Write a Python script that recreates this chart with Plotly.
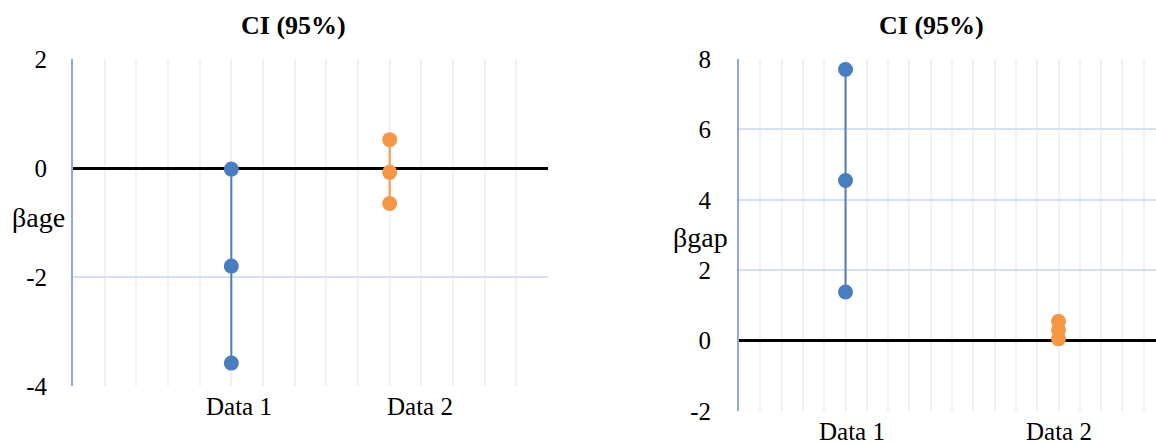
import plotly.graph_objects as go

# ---- data ----
categories = ["Data 1", "Data 2"]
left_x = [1, 2]
left_data1 = [-0.02, -1.8, -3.58]
left_data2 = [0.52, -0.08, -0.65]
right_x = [1, 3]
right_data1 = [7.7, 4.55, 1.38]
right_data2 = [0.55, 0.3, 0.05]
left_yticks = [2, 0, -2, -4]
left_yticklabels = ["2", "0", "-2", "-4"]
right_yticks = [8, 6, 4, 2, 0, -2]
right_yticklabels = ["8", "6", "4", "2", "0", "-2"]
title_text = "CI (95%)"
left_ylabel = "βage"
right_ylabel = "βgap"

BLUE = "#4a7dbf"
ORANGE = "#f79646"
FONT = "Liberation Serif, Times New Roman, serif"

fig = go.Figure()

def add_ci(x, ys, color, xa, ya):
    fig.add_trace(go.Scatter(
        x=[x] * len(ys), y=ys, mode="lines+markers",
        line=dict(color=color, width=2),
        marker=dict(color=color, size=15),
        xaxis=xa, yaxis=ya, showlegend=False, hoverinfo="y"))

add_ci(left_x[0], left_data1, BLUE, "x", "y")
add_ci(left_x[1], left_data2, ORANGE, "x", "y")
add_ci(right_x[0], right_data1, BLUE, "x2", "y2")
add_ci(right_x[1], right_data2, ORANGE, "x2", "y2")

W, H = 1156, 445
L1, R1 = 73, 548
L2 = 739
px_per_unit_r = 106.5
T, B1, B2 = 59, 386, 411

grid_major = "#d5e0f2"
grid_minor = "#edf2fa"
TICKFONT = dict(family=FONT, size=25, color="black")

fig.update_layout(
    template="none",
    width=W, height=H, autosize=False,
    margin=dict(l=0, r=0, t=0, b=0, pad=0, autoexpand=False),
    paper_bgcolor="white", plot_bgcolor="white",
    font=dict(family=FONT, color="black", size=24),
    showlegend=False,
    xaxis=dict(domain=[L1 / W, R1 / W], range=[0, 3], anchor="y",
               automargin=False,
               showgrid=True, gridcolor=grid_minor, gridwidth=1.5,
               dtick=0.2, tick0=0, zeroline=False, showticklabels=False,
               showline=False, ticks=""),
    yaxis=dict(domain=[1 - B1 / H, 1 - T / H], range=[-4, 2], anchor="x",
               automargin=False,
               tickvals=left_yticks, ticktext=left_yticklabels,
               showgrid=True, gridcolor=grid_major,
               gridwidth=2, zeroline=True, zerolinecolor="black",
               zerolinewidth=3, showline=True, linecolor="#8eaadc",
               linewidth=2, ticks="", ticklabelstandoff=19,
               tickfont=TICKFONT),
    xaxis2=dict(domain=[L2 / W, 1.0], range=[0, (W - L2) / px_per_unit_r],
                anchor="y2", automargin=False,
                showgrid=True, gridcolor=grid_minor, gridwidth=1.5,
                dtick=0.2, tick0=0, zeroline=False, showticklabels=False,
                showline=False, ticks=""),
    yaxis2=dict(domain=[1 - B2 / H, 1 - T / H], range=[-2, 8], anchor="x2",
                automargin=False,
                tickvals=right_yticks, ticktext=right_yticklabels,
                showgrid=True, gridcolor=grid_major,
                gridwidth=2, zeroline=True, zerolinecolor="black",
                zerolinewidth=3, showline=True, linecolor="#8eaadc",
                linewidth=2, ticks="", ticklabelstandoff=21,
                tickfont=TICKFONT),
)

ann = []
for tx in [293, 931]:
    ann.append(dict(text="<b>" + title_text + "</b>", xref="paper", yref="paper",
                    x=tx / W, y=1 - 25 / H, showarrow=False,
                    font=dict(family=FONT, size=26, color="black"),
                    xanchor="center", yanchor="middle"))
ann.append(dict(text=left_ylabel, xref="paper", yref="paper",
                x=38 / W, y=1 - 217 / H, showarrow=False,
                font=dict(family=FONT, size=28, color="black"),
                xanchor="center", yanchor="middle"))
ann.append(dict(text=right_ylabel, xref="paper", yref="paper",
                x=700 / W, y=1 - 237 / H, showarrow=False,
                font=dict(family=FONT, size=28, color="black"),
                xanchor="center", yanchor="middle"))
left_label_x = [1.05, 2.19]
right_label_x = [1.06, 3.0]
for cx, cat in zip(left_label_x, categories):
    ann.append(dict(text=cat, xref="x", yref="paper", x=cx, y=1 - 406 / H,
                    showarrow=False, font=TICKFONT,
                    xanchor="center", yanchor="middle"))
for cx, cat in zip(right_label_x, categories):
    ann.append(dict(text=cat, xref="x2", yref="paper", x=cx, y=1 - 431 / H,
                    showarrow=False, font=TICKFONT,
                    xanchor="center", yanchor="middle"))
fig.update_layout(annotations=ann)

post = ("document.documentElement.style.margin='0';document.documentElement.style.padding='0';"
        "document.body.style.margin='0';document.body.style.padding='0';"
        "document.documentElement.style.overflow='hidden';document.body.style.overflow='hidden';")

fig.write_html("out.html", post_script=post, config={"displayModeBar": False})
